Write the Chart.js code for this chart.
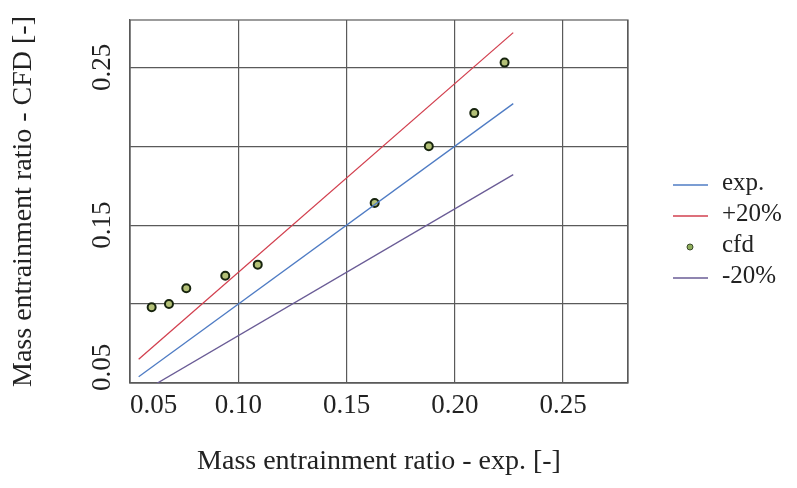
<!DOCTYPE html>
<html>
<head>
<meta charset="utf-8">
<script src="https://cdn.jsdelivr.net/npm/chart.js@4.4.0/dist/chart.umd.min.js"></script>
<style>
  body { margin: 0; background: #fff; }
  canvas { display: block; }
</style>
</head>
<body>
<canvas id="entrainmentChart" width="797" height="488"></canvas>
<script>
// values
const cfdX = [0.060, 0.068, 0.076, 0.094, 0.109, 0.163, 0.188, 0.209, 0.223];
const cfdY = [0.098, 0.100, 0.110, 0.118, 0.125, 0.164, 0.200, 0.221, 0.253];
const lineX = [0.054, 0.227];
const expY = [0.054, 0.227];
const plus20Y = [0.065, 0.272];
const minus20Y = [0.043, 0.182];

const xTicks = [0.05, 0.10, 0.15, 0.20, 0.25, 0.28];
const xTickLabels = ["0.05", "0.10", "0.15", "0.20", "0.25", ""];
const yTicks = [0.05, 0.10, 0.15, 0.20, 0.25];
const yTickLabels = ["0.05", "", "0.15", "", "0.25"];

const serif = "'Liberation Serif', 'Times New Roman', serif";
const gridColor = "#5a5a5a";
const textColor = "#222";

const toPoints = (xs, ys) => xs.map((x, i) => ({ x: x, y: ys[i] }));

const datasets = [
  {
    label: "exp.",
    data: toPoints(lineX, expY),
    showLine: true,
    borderColor: "#4f7cc4",
    borderWidth: 1.3,
    pointRadius: 0,
  },
  {
    label: "+20%",
    data: toPoints(lineX, plus20Y),
    showLine: true,
    borderColor: "#d2404f",
    borderWidth: 1.3,
    pointRadius: 0,
  },
  {
    label: "-20%",
    data: toPoints(lineX, minus20Y),
    showLine: true,
    borderColor: "#6a5c96",
    borderWidth: 1.3,
    pointRadius: 0,
  },
  {
    label: "cfd",
    data: toPoints(cfdX, cfdY),
    showLine: false,
    backgroundColor: "#b3c077",
    borderColor: "#17240e",
    borderWidth: 2,
    pointRadius: 4,
  },
];

// legend order as in the picture
const legendOrder = ["exp.", "+20%", "cfd", "-20%"];

const boxAndLabels = {
  id: "boxAndLabels",
  beforeDatasetsDraw(chart) {
    const { ctx, chartArea } = chart;
    ctx.save();
    ctx.strokeStyle = gridColor;
    ctx.lineWidth = 1.2;
    ctx.strokeRect(chartArea.left, chartArea.top, chartArea.right - chartArea.left, chartArea.bottom - chartArea.top);
    ctx.restore();
  },
  afterDraw(chart) {
    const { ctx } = chart;
    const yScale = chart.scales.y;

    // rotated y tick labels
    ctx.save();
    ctx.fillStyle = textColor;
    ctx.font = "27px " + serif;
    ctx.textBaseline = "middle";
    yTicks.forEach((v, i) => {
      if (!yTickLabels[i]) return;
      let py = yScale.getPixelForValue(v);
      ctx.save();
      ctx.translate(103, py);
      ctx.rotate(-Math.PI / 2);
      if (i === 0) {
        ctx.textAlign = "left";
        ctx.fillText(yTickLabels[i], -8, 0);
      } else {
        ctx.textAlign = "center";
        ctx.fillText(yTickLabels[i], 0, 0);
      }
      ctx.restore();
    });
    ctx.restore();

    // legend
    ctx.save();
    ctx.font = "25px " + serif;
    ctx.textBaseline = "middle";
    ctx.textAlign = "left";
    legendOrder.forEach((name, i) => {
      const ds = chart.data.datasets.find((d) => d.label === name);
      const y = 185 + i * 31;
      if (ds.showLine) {
        ctx.strokeStyle = ds.borderColor;
        ctx.lineWidth = 1.3;
        ctx.beginPath();
        ctx.moveTo(673, y);
        ctx.lineTo(708, y);
        ctx.stroke();
      } else {
        ctx.fillStyle = "#8fae5c";
        ctx.strokeStyle = "#3a4a2a";
        ctx.lineWidth = 1;
        ctx.beginPath();
        ctx.arc(690, y, 3, 0, Math.PI * 2);
        ctx.fill();
        ctx.stroke();
      }
      ctx.fillStyle = textColor;
      ctx.fillText(name, 722, y - 2);
    });
    ctx.restore();
  },
};

const ctx = document.getElementById("entrainmentChart").getContext("2d");
new Chart(ctx, {
  type: "scatter",
  data: { datasets: datasets },
  options: {
    responsive: false,
    animation: false,
    devicePixelRatio: 1,
    layout: { padding: { top: 20, right: 169, left: 0, bottom: 0 } },
    plugins: {
      legend: { display: false },
      tooltip: { enabled: false },
    },
    scales: {
      x: {
        type: "linear",
        min: 0.05,
        max: 0.28,
        afterBuildTicks: (scale) => {
          scale.ticks = xTicks.map((v) => ({ value: v }));
        },
        afterFit: (scale) => {
          scale.height = 105;
        },
        grid: { color: gridColor, lineWidth: 1.2, drawTicks: false },
        border: { color: gridColor, width: 1.2 },
        ticks: {
          autoSkip: false,
          maxRotation: 0,
          minRotation: 0,
          align: "inner",
          padding: 7,
          color: textColor,
          font: { family: serif, size: 27 },
          callback: (value, index) => xTickLabels[index],
        },
        title: {
          display: true,
          text: "Mass entrainment ratio - exp. [-]",
          color: textColor,
          font: { family: serif, size: 28 },
          padding: { top: 0, bottom: 10 },
        },
      },
      y: {
        type: "linear",
        min: 0.05,
        max: 0.28,
        afterBuildTicks: (scale) => {
          scale.ticks = yTicks.map((v) => ({ value: v }));
        },
        afterFit: (scale) => {
          scale.width = 130;
        },
        grid: { color: gridColor, lineWidth: 1.2, drawTicks: false },
        border: { color: gridColor, width: 1.2 },
        ticks: { display: false },
        title: {
          display: true,
          text: "Mass entrainment ratio - CFD [-]",
          color: textColor,
          font: { family: serif, size: 28 },
          padding: { top: 7, bottom: 0 },
        },
      },
    },
  },
  plugins: [boxAndLabels],
});
</script>
</body>
</html>
